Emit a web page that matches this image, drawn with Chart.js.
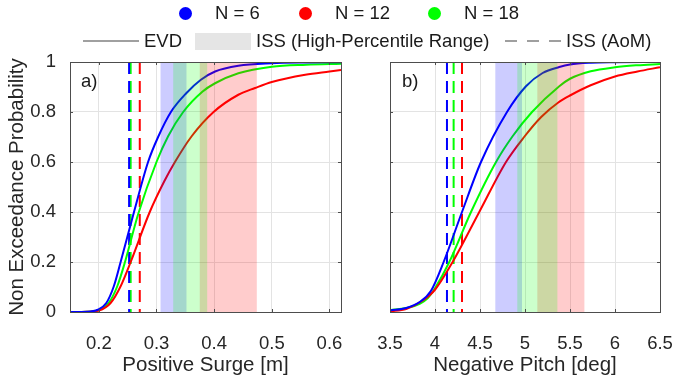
<!DOCTYPE html>
<html>
<head>
<meta charset="utf-8">
<script src="https://cdn.jsdelivr.net/npm/chart.js@4.4.1/dist/chart.umd.min.js"></script>
<style>
  body { margin: 0; background: #fff; }
  #wrap { position: relative; width: 674px; height: 383px; overflow: hidden; font-family: "Liberation Sans", Arial, sans-serif; color: #1a1a1a; }
  #wrap canvas { position: absolute; left: 0; top: 0; }
  .txt { position: absolute; font-size: 18.5px; line-height: 22px; white-space: nowrap; }
  .dot { position: absolute; width: 13px; height: 13px; border-radius: 50%; }
  .swatch { position: absolute; }
</style>
</head>
<body>
<div id="wrap">
  <canvas id="chartA" width="674" height="383"></canvas>
  <canvas id="chartB" width="674" height="383"></canvas>
</div>
<script>
const seriesNames = ["N = 6", "N = 12", "N = 18"];
const seriesColors = ["#0000ff", "#ff0000", "#00ff00"];
const rangeFills = ["rgba(0,0,255,0.2)", "rgba(255,0,0,0.2)", "rgba(0,255,0,0.2)"];

// a) positive surge [m]  (EVD curves, one x list per curve)
const surgeN6x  = [0.15, 0.18, 0.198, 0.213, 0.226, 0.2378, 0.261, 0.2854, 0.3028, 0.325, 0.352, 0.377, 0.4016, 0.442, 0.5, 0.56, 0.62];
const surgeN6   = [0, 0.001, 0.009, 0.036, 0.103, 0.2, 0.4, 0.6, 0.70, 0.8, 0.876, 0.929, 0.962, 0.985, 0.995, 0.998, 0.999];
const surgeN12x = [0.15, 0.18, 0.2, 0.2204, 0.2378, 0.2552, 0.2883, 0.3133, 0.332, 0.361, 0.399, 0.442, 0.471, 0.5, 0.558, 0.6, 0.62];
const surgeN12  = [0, 0.001, 0.006, 0.036, 0.103, 0.2, 0.4, 0.522, 0.6, 0.703, 0.8, 0.869, 0.896, 0.92, 0.949, 0.962, 0.968];
const surgeN18x = [0.15, 0.18, 0.2, 0.217, 0.232, 0.246, 0.268, 0.3, 0.3202, 0.3463, 0.38, 0.4016, 0.442, 0.5, 0.56, 0.62];
const surgeN18  = [0, 0.001, 0.007, 0.036, 0.103, 0.205, 0.39, 0.6, 0.703, 0.8, 0.882, 0.915, 0.955, 0.981, 0.989, 0.993];
const surgeAoM = [0.2525, 0.271, 0.2552];                          // N = 6, 12, 18
const surgeRange = [[0.307, 0.352], [0.375, 0.474], [0.329, 0.388]];
const surgeTicks = [0.2, 0.3, 0.4, 0.5, 0.6];

// b) negative pitch [deg]
const pitchN6x  = [3.5, 3.68, 3.83, 3.956, 4.096, 4.3, 4.511, 4.8, 5.011, 5.196, 5.381, 5.5, 5.73, 6.0, 6.5];
const pitchN6   = [0.006, 0.016, 0.04, 0.085, 0.2, 0.4, 0.6, 0.8, 0.903, 0.956, 0.98, 0.99, 0.997, 0.999, 1.0];
const pitchN12x = [3.5, 3.68, 3.86, 4.0, 4.196, 4.492, 4.789, 4.99, 5.18, 5.37, 5.5, 5.73, 6.0, 6.25, 6.5];
const pitchN12  = [0.003, 0.012, 0.045, 0.089, 0.2, 0.4, 0.6, 0.7, 0.78, 0.838, 0.866, 0.907, 0.942, 0.962, 0.979];
const pitchN18x = [3.5, 3.68, 3.83, 3.918, 4.0, 4.159, 4.4, 4.678, 4.862, 5.078, 5.381, 5.5, 5.73, 6.0, 6.25, 6.5];
const pitchN18  = [0.007, 0.016, 0.033, 0.055, 0.095, 0.2, 0.4, 0.6, 0.703, 0.8, 0.903, 0.933, 0.963, 0.979, 0.987, 0.992];
const pitchAoM = [4.133, 4.30, 4.207];
const pitchRange = [[4.67, 4.967], [5.137, 5.66], [4.914, 5.36]];
const pitchTicks = [3.5, 4, 4.5, 5, 5.5, 6, 6.5];

const probTicks = [0, 0.2, 0.4, 0.6, 0.8, 1];

Chart.defaults.font.family = '"Liberation Sans", Arial, sans-serif';
Chart.defaults.color = "#262626";

// shaded ISS ranges on top of the curves, then the box with inward ticks
const axesBox = {
  id: "axesBox",
  afterDatasetsDraw(chart, args, opts) {
    const { ctx, chartArea: a, scales: { x, y } } = chart;
    ctx.save();
    opts.ranges.forEach((r, i) => {
      const x0 = x.getPixelForValue(r[0]);
      const x1 = x.getPixelForValue(r[1]);
      ctx.fillStyle = rangeFills[i];
      ctx.fillRect(x0, a.top, x1 - x0, a.bottom - a.top);
    });
    ctx.strokeStyle = "#4d4d4d";
    ctx.lineWidth = 1;
    ctx.beginPath();
    opts.xTicks.forEach(v => {
      const px = Math.round(x.getPixelForValue(v)) + 0.5;
      ctx.moveTo(px, a.bottom); ctx.lineTo(px, a.bottom - 3);
      ctx.moveTo(px, a.top); ctx.lineTo(px, a.top + 3);
    });
    probTicks.forEach(v => {
      const py = Math.round(y.getPixelForValue(v)) + 0.5;
      ctx.moveTo(a.left, py); ctx.lineTo(a.left + 3, py);
      ctx.moveTo(a.right, py); ctx.lineTo(a.right - 3, py);
    });
    ctx.stroke();
    ctx.strokeRect(Math.round(a.left) + 0.5, Math.round(a.top) + 0.5, Math.round(a.right - a.left), Math.round(a.bottom - a.top));
    ctx.restore();
  }
};

function buildDatasets(curves, aom) {
  const sets = [];
  curves.forEach(([xs, ys], i) => {
    sets.push({
      data: xs.map((x, k) => ({ x, y: ys[k] })),
      borderColor: seriesColors[i], borderWidth: 2, pointRadius: 0,
      cubicInterpolationMode: "monotone"
    });
  });
  aom.forEach((v, i) => {
    sets.push({
      data: [{ x: v, y: 1 }, { x: v, y: 0 }],
      borderColor: seriesColors[i], borderWidth: 2, pointRadius: 0,
      borderDash: [12, 7]
    });
  });
  return sets;
}

function makeChart(id, cfg) {
  return new Chart(document.getElementById(id), {
    type: "line",
    data: { datasets: buildDatasets(cfg.curves, cfg.aom) },
    plugins: [axesBox],
    options: {
      responsive: false,
      animation: false,
      layout: { padding: cfg.padding },
      plugins: {
        legend: { display: false },
        tooltip: { enabled: false },
        axesBox: { ranges: cfg.ranges, xTicks: cfg.ticks }
      },
      scales: {
        x: {
          type: "linear", min: cfg.min, max: cfg.max,
          afterBuildTicks: s => { s.ticks = cfg.ticks.map(v => ({ value: v })); },
          afterFit: s => { s.height = 71; s.paddingLeft = 0; s.paddingRight = 0; },
          ticks: { font: { size: 18.5 }, padding: 21, autoSkip: false, maxRotation: 0, callback: v => String(v) },
          grid: { color: "#e3e3e3", drawTicks: false },
          border: { display: false },
          title: { display: true, text: cfg.xTitle, font: { size: 20.5 }, padding: { top: 0, bottom: 5 } }
        },
        y: {
          type: "linear", min: 0, max: 1,
          afterBuildTicks: s => { s.ticks = probTicks.map(v => ({ value: v })); },
          afterFit: s => { s.width = cfg.yWidth; s.paddingTop = 0; s.paddingBottom = 0; },
          ticks: { display: cfg.yLabels, font: { size: 18.5 }, padding: 14, callback: v => String(v) },
          grid: { color: "#e3e3e3", drawTicks: false },
          border: { display: false },
          title: { display: cfg.yLabels, text: "Non Exceedance Probability", font: { size: 20.5 }, padding: { top: 5, bottom: 0 } }
        }
      }
    }
  });
}

makeChart("chartA", {
  curves: [[surgeN6x, surgeN6], [surgeN12x, surgeN12], [surgeN18x, surgeN18]],
  aom: surgeAoM, ranges: surgeRange,
  ticks: surgeTicks, min: 0.15, max: 0.62, xTitle: "Positive Surge [m]",
  padding: { left: 0, top: 62, right: 333, bottom: 0 }, yWidth: 70, yLabels: true
});

makeChart("chartB", {
  curves: [[pitchN6x, pitchN6], [pitchN12x, pitchN12], [pitchN18x, pitchN18]],
  aom: pitchAoM, ranges: pitchRange,
  ticks: pitchTicks, min: 3.5, max: 6.5, xTitle: "Negative Pitch [deg]",
  padding: { left: 390, top: 62, right: 14, bottom: 0 }, yWidth: 0, yLabels: false
});

// panel labels and legend
const wrap = document.getElementById("wrap");
function addText(text, left, cy) {
  const el = document.createElement("div");
  el.className = "txt";
  el.textContent = text;
  el.style.left = left + "px";
  el.style.top = (cy - 11) + "px";
  wrap.appendChild(el);
  return el;
}
addText("a)", 81, 81);
addText("b)", 402, 81);

const dotX = [185, 305, 434];
seriesNames.forEach((name, i) => {
  const d = document.createElement("div");
  d.className = "dot";
  d.style.background = seriesColors[i];
  d.style.left = (dotX[i] - 6.5) + "px";
  d.style.top = (13 - 6.5) + "px";
  wrap.appendChild(d);
  addText(name, dotX[i] + 30, 13);
});

function addSvgLine(left, top, w, dash) {
  const ns = "http://www.w3.org/2000/svg";
  const svg = document.createElementNS(ns, "svg");
  svg.setAttribute("width", w); svg.setAttribute("height", 4);
  svg.style.position = "absolute";
  svg.style.left = left + "px"; svg.style.top = (top - 2) + "px";
  const ln = document.createElementNS(ns, "line");
  ln.setAttribute("x1", 0); ln.setAttribute("x2", w);
  ln.setAttribute("y1", 2); ln.setAttribute("y2", 2);
  ln.setAttribute("stroke", "#808080"); ln.setAttribute("stroke-width", 1.6);
  if (dash) ln.setAttribute("stroke-dasharray", dash);
  svg.appendChild(ln);
  wrap.appendChild(svg);
}
addSvgLine(83, 41, 56, null);
addText("EVD", 144, 41);
const box = document.createElement("div");
box.className = "swatch";
Object.assign(box.style, { left: "195px", top: "33px", width: "56px", height: "17px", background: "#e5e5e5" });
wrap.appendChild(box);
addText("ISS (High-Percentile Range)", 256, 41);
addSvgLine(505, 41, 56, "12 10");
addText("ISS (AoM)", 566, 41);
</script>
</body>
</html>
